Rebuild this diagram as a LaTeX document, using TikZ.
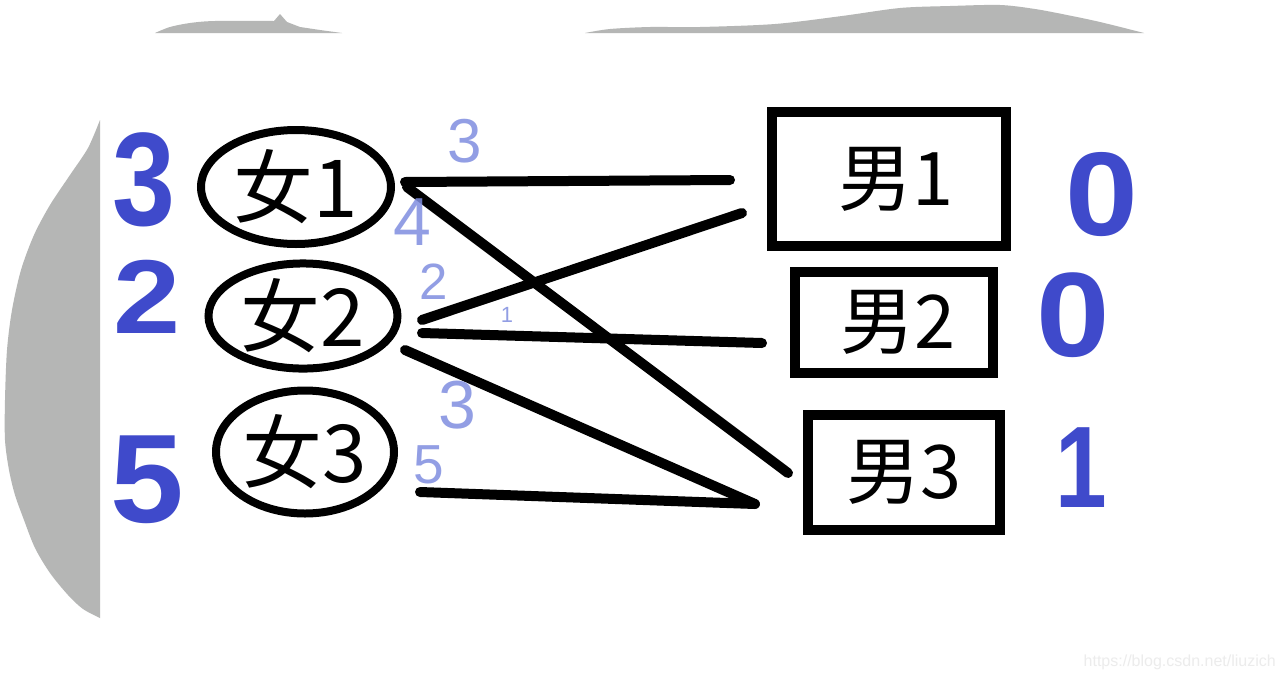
\documentclass[tikz,border=0pt]{standalone}
\usepackage{fontspec}
\newfontfamily\cjk{Noto Sans CJK SC}
\newfontfamily\hand{Liberation Sans}
\newfontfamily\labfont{Liberation Sans}
\usetikzlibrary{shapes.geometric}
\definecolor{bgray}{RGB}{181,182,181}
\definecolor{hblue}{RGB}{63,74,203}
\definecolor{lblue}{RGB}{128,142,224}
\definecolor{wm}{RGB}{236,236,236}
\tikzset{
  girl/.style={ellipse, draw, line width=8pt, inner sep=0pt, font=\cjk\fontsize{80}{80}\selectfont},
  boy/.style={rectangle, draw, line width=10pt, inner sep=0pt, font=\cjk\fontsize{74}{74}\selectfont},
  link/.style={line width=10pt, line cap=round},
  bignum/.style={text=hblue, inner sep=0pt},
  smallnum/.style={text=lblue, inner sep=0pt, opacity=0.85}
}
\begin{document}
\begin{tikzpicture}[x=1pt,y=-1pt]
\fill[white] (0,0) rectangle (1285,681);
\useasboundingbox (0,0) rectangle (1285,681);
% gray background scraps
\fill[bgray] plot[smooth] coordinates {(155,33) (170,27) (190,23) (215,21) (274,21)} -- (280,14) -- (287,22) -- (300,27) -- (320,30) -- (342,33) -- cycle;
\fill[bgray] plot[smooth] coordinates {(585,33) (610,29) (650,27) (700,27) (775,24) (842,16) (900,8) (950,6) (1000,5) (1035,9) (1067,15) (1100,22) (1144,33)} -- cycle;
\fill[bgray] plot[smooth] coordinates {(100,120) (88,148) (70,175) (50,205) (34,235) (21,270) (12,310) (7,350) (5,400) (5,440) (9,470) (15,495) (24,520) (35,548) (50,573) (68,595) (83,609) (100,618)} -- cycle;
% girls
\node[girl, minimum width=190pt, minimum height=114pt] (g1) at (296,187) {女1};
\node[girl, minimum width=189pt, minimum height=99pt] (g2) at (303,316) {女2};
\node[girl, minimum width=178pt, minimum height=123pt] (g3) at (305,452) {女3};
% boys
\node[boy, minimum width=234pt, minimum height=134pt] (b1) at (889,179) {\hspace*{14pt}男1};
\node[boy, minimum width=198pt, minimum height=101pt] (b2) at (894,322) {\hspace*{8pt}男2};
\node[boy, minimum width=192pt, minimum height=115pt] (b3) at (904,472) {男3};
% connector end points
\coordinate (g1a) at (405,182);
\coordinate (g1b) at (407,187);
\coordinate (g2a) at (422,320);
\coordinate (g2b) at (422,333);
\coordinate (g2c) at (405,350);
\coordinate (g3a) at (420,492);
\coordinate (b1a) at (730,180);
\coordinate (b1b) at (742,213);
\coordinate (b2a) at (762,343);
\coordinate (b3a) at (788,473);
\coordinate (b3b) at (755,504);
\draw[link] (g1a) -- (b1a);
\draw[link] (g1b) -- (b3a);
\draw[link] (g2a) -- (b1b);
\draw[link] (g2b) -- (b2a);
\draw[link] (g2c) -- (b3b);
\draw[link] (g3a) -- (b3b);
% big blue numbers
\node[bignum, font=\hand\bfseries\fontsize{133}{133}\selectfont] (n3) at (144,180) {\scalebox{0.85}[1]{3}};
\node[bignum, font=\hand\bfseries\fontsize{105}{105}\selectfont] (n2) at (147,297) {\scalebox{1.15}[1]{2}};
\node[bignum, font=\hand\bfseries\fontsize{126}{126}\selectfont] (n5) at (147,480) {\scalebox{1.05}[1]{5}};
\node[bignum, font=\hand\bfseries\fontsize{119}{119}\selectfont] (m0a) at (1102,195) {\scalebox{1.1}[1]{0}};
\node[bignum, font=\hand\bfseries\fontsize{120}{120}\selectfont] (m0b) at (1073,315) {\scalebox{1.1}[1]{0}};
\node[bignum, font=\hand\bfseries\fontsize{116}{116}\selectfont] (m1) at (1081,468) {\scalebox{0.8}[1]{1}};
% small edge weights
\node[smallnum, font=\labfont\fontsize{62}{62}\selectfont] (w3a) at (465,141) {3};
\node[smallnum, font=\labfont\fontsize{68}{68}\selectfont] (w4) at (412,222) {4};
\node[smallnum, font=\labfont\fontsize{51}{51}\selectfont] (w2) at (434,282) {2};
\node[smallnum, font=\labfont\fontsize{22}{22}\selectfont] (w1) at (507,315) {1};
\node[smallnum, font=\labfont\fontsize{68}{68}\selectfont] (w3b) at (457,405) {3};
\node[smallnum, font=\labfont\fontsize{55}{55}\selectfont] (w5) at (429,465) {5};
% watermark
\node[text=wm, inner sep=0pt, anchor=east, font=\labfont\fontsize{16}{16}\selectfont] (wmk) at (1276,662) {https://blog.csdn.net/liuzich};
\end{tikzpicture}
\end{document}
